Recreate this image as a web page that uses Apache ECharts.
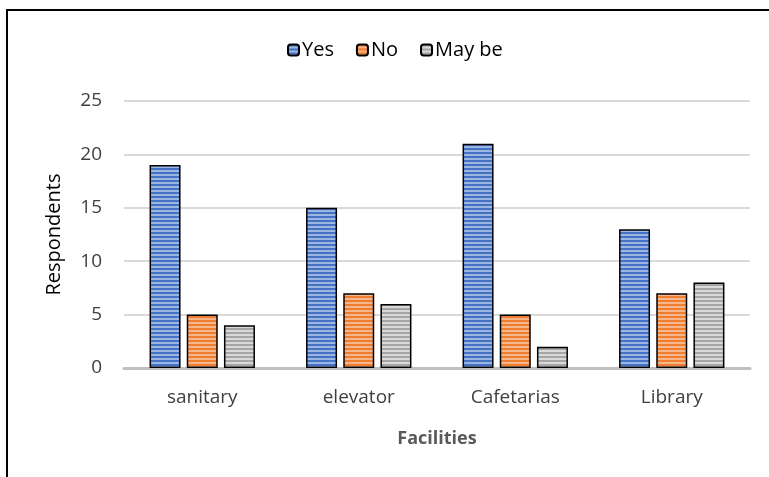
<!DOCTYPE html>
<html>
<head>
<meta charset="utf-8">
<script src="https://cdn.jsdelivr.net/npm/echarts@6/dist/echarts.min.js"></script>
<style>
  html, body { margin: 0; padding: 0; background: #fff; }
  #chart { width: 769px; height: 477px; }
</style>
</head>
<body>
<div id="chart"></div>
<script>
var categories = ['sanitary', 'elevator', 'Cafetarias', 'Library'];
var yesData = [19, 15, 21, 13];
var noData = [5, 7, 5, 7];
var maybeData = [4, 6, 2, 8];
var yTicks = [0, 5, 10, 15, 20, 25];

// horizontal striped fill, like the office pattern
function stripes(dark, light) {
    var c = document.createElement('canvas');
    c.width = 4; c.height = 4;
    var ctx = c.getContext('2d');
    ctx.fillStyle = dark;
    ctx.fillRect(0, 0, 4, 4);
    ctx.fillStyle = light;
    ctx.fillRect(0, 2, 4, 2);
    return { image: c, repeat: 'repeat' };
}

var myChart = echarts.init(document.getElementById('chart'));

var barStyle = function(dark, light) {
    return { color: stripes(dark, light), borderColor: '#000', borderWidth: 1.5 };
};

var option = {
    animation: false,
    textStyle: { fontFamily: 'Open Sans' },
    graphic: [{
        type: 'rect',
        shape: { x: 7, y: 10, width: 800, height: 500 },
        style: { fill: 'none', stroke: '#000', lineWidth: 2 }
    }],
    legend: {
        top: 35,
        left: 282,
        itemWidth: 11,
        itemHeight: 11,
        itemGap: 22,
        textStyle: { fontSize: 20, color: '#000', padding: [0, 0, 0, -2] },
        data: ['Yes', 'No', 'May be']
    },
    grid: { left: 124, right: 19, top: 101, bottom: 109 },
    xAxis: {
        type: 'category',
        data: categories,
        name: 'Facilities',
        nameLocation: 'middle',
        nameGap: 62,
        nameTextStyle: { fontSize: 18, fontWeight: 'bold', color: '#595959' },
        axisLine: { lineStyle: { color: '#bfbfbf', width: 3 } },
        axisTick: { show: false },
        axisLabel: { fontSize: 19, color: '#404040', margin: 20 }
    },
    yAxis: {
        type: 'value',
        min: yTicks[0],
        max: yTicks[yTicks.length - 1],
        interval: 5,
        name: 'Respondents',
        nameLocation: 'middle',
        nameGap: 60,
        nameTextStyle: { fontSize: 20, color: '#000' },
        axisLine: { show: false },
        axisTick: { show: false },
        axisLabel: { fontSize: 19, color: '#404040', margin: 22 },
        splitLine: { lineStyle: { color: '#d9d9d9', width: 2 } }
    },
    series: [
        {
            name: 'Yes', type: 'bar', data: yesData,
            barWidth: 31, barGap: '20%',
            itemStyle: barStyle('#4472c4', '#9db5e3')
        },
        {
            name: 'No', type: 'bar', data: noData,
            barWidth: 31, barGap: '20%',
            itemStyle: barStyle('#ed7d31', '#f6b68a')
        },
        {
            name: 'May be', type: 'bar', data: maybeData,
            barWidth: 31, barGap: '20%',
            itemStyle: barStyle('#a5a5a5', '#d9d9d9')
        }
    ]
};

myChart.setOption(option);
</script>
</body>
</html>
